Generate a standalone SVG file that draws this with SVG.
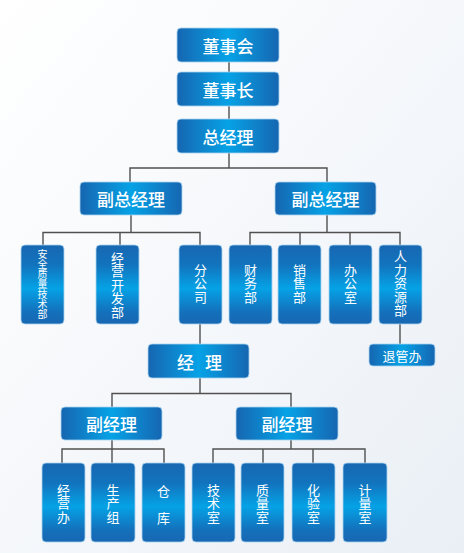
<svg xmlns="http://www.w3.org/2000/svg" width="464" height="553" viewBox="0 0 464 553">
<defs>
<linearGradient id="bg" x1="0" y1="0" x2="1" y2="1">
<stop offset="0" stop-color="#ffffff"/>
<stop offset="0.6" stop-color="#f3f6fa"/>
<stop offset="1" stop-color="#e9eff5"/>
</linearGradient>
<linearGradient id="gh" x1="0" y1="0" x2="1" y2="0">
<stop offset="0" stop-color="#1666b1"/>
<stop offset="0.5" stop-color="#06a2e6"/>
<stop offset="1" stop-color="#1666b1"/>
</linearGradient>
<linearGradient id="gv" x1="0" y1="0" x2="0" y2="1">
<stop offset="0" stop-color="#1867b2"/>
<stop offset="0.25" stop-color="#1273bd"/>
<stop offset="0.55" stop-color="#05a2e6"/>
<stop offset="0.85" stop-color="#1470bb"/>
<stop offset="1" stop-color="#1867b2"/>
</linearGradient>
</defs>
<style>
.h{fill:url(#gh);stroke:#a8d3ef;stroke-width:0.8}
.v{fill:url(#gv);stroke:#a8d3ef;stroke-width:0.8}
text{font-family:"Noto Sans CJK SC","Noto Sans",sans-serif;fill:#ffffff;text-anchor:middle;dominant-baseline:central}
.t{font-size:17px;font-weight:500}
.s{font-size:13px}
.vt{font-size:13px;writing-mode:vertical-rl;letter-spacing:0.5px}
.vx{font-size:10px;writing-mode:vertical-rl}
.c{fill:none;stroke:#505050;stroke-width:1.4}
</style>
<rect width="464" height="553" fill="url(#bg)"/>
<g id="connectors" class="c">
<path d="M229 62V72M229 106V119"/>
<path d="M229 153V168M130 182V168H327V182"/>
<path d="M131 215V232.5M43 245V232.5H200V245M120 232.5V245"/>
<path d="M327 215V232.5M250 245V232.5H400V245M300 232.5V245M350 232.5V245"/>
<path d="M400 324V344"/>
<path d="M200 324V344"/>
<path d="M200 378V393.5M112 407V393.5H291V407"/>
<path d="M112 440V463M62 463V449H164V463"/>
<path d="M291 440V449M213 463V449H365V463M263 449V463M313 449V463"/>
</g>
<g id="dongshihui"><rect class="h" x="177" y="28" width="102" height="34" rx="4"/><text class="t" x="228" y="45">董事会</text></g>
<g id="dongshizhang"><rect class="h" x="177" y="72" width="102" height="34" rx="4"/><text class="t" x="228" y="89">董事长</text></g>
<g id="zongjingli"><rect class="h" x="177" y="119" width="102" height="34" rx="4"/><text class="t" x="228" y="136">总经理</text></g>
<g id="fuzong1"><rect class="h" x="80" y="182" width="102" height="33" rx="4"/><text class="t" x="131" y="198.5">副总经理</text></g>
<g id="fuzong2"><rect class="h" x="275" y="182" width="101" height="33" rx="4"/><text class="t" x="325.5" y="198.5">副总经理</text></g>
<g id="anquan"><rect class="v" x="21" y="245" width="43" height="79" rx="4"/><text class="vx" x="42.5" y="284.5">安全质量技术部</text></g>
<g id="jingying"><rect class="v" x="96" y="245" width="43" height="79" rx="4"/><text class="vt" x="117.5" y="285">经营开发部</text></g>
<g id="fengongsi"><rect class="v" x="179" y="245" width="43" height="79" rx="4"/><text class="vt" x="200.5" y="283.5">分公司</text></g>
<g id="caiwu"><rect class="v" x="229" y="245" width="43" height="79" rx="4"/><text class="vt" x="250.5" y="283.5">财务部</text></g>
<g id="xiaoshou"><rect class="v" x="278" y="245" width="43" height="79" rx="4"/><text class="vt" x="299.5" y="283.5">销售部</text></g>
<g id="bangongshi"><rect class="v" x="329" y="245" width="43" height="79" rx="4"/><text class="vt" x="350.5" y="283.5">办公室</text></g>
<g id="renli"><rect class="v" x="379" y="245" width="43" height="79" rx="4"/><text class="vt" x="400.5" y="283.5">人力资源部</text></g>
<g id="tuiguanban"><rect class="h" x="369" y="344" width="66" height="22" rx="4"/><text class="s" x="402" y="355">退管办</text></g>
<g id="jingli"><rect class="h" x="148" y="344" width="101" height="34" rx="4"/><text class="t" x="199.5" y="361" style="word-spacing:7px" xml:space="preserve">经 理</text></g>
<g id="fujingli1"><rect class="h" x="61" y="407" width="101" height="33" rx="4"/><text class="t" x="111.5" y="423.5">副经理</text></g>
<g id="fujingli2"><rect class="h" x="236" y="407" width="102" height="33" rx="4"/><text class="t" x="287" y="423.5">副经理</text></g>
<g id="jingyingban"><rect class="v" x="42" y="463" width="43" height="79" rx="4"/><text class="vt" x="63.5" y="503.5">经营办</text></g>
<g id="shengchanzu"><rect class="v" x="91" y="463" width="44" height="79" rx="4"/><text class="vt" x="113" y="503.5">生产组</text></g>
<g id="cangku"><rect class="v" x="142" y="463" width="43" height="79" rx="4"/><text class="s"><tspan x="163.5" y="490">仓</tspan><tspan x="163.5" y="517">库</tspan></text></g>
<g id="jishushi"><rect class="v" x="192" y="463" width="43" height="79" rx="4"/><text class="vt" x="213.5" y="503.5">技术室</text></g>
<g id="zhiliangshi"><rect class="v" x="241" y="463" width="43" height="79" rx="4"/><text class="vt" x="262.5" y="503.5">质量室</text></g>
<g id="huayanshi"><rect class="v" x="292" y="463" width="43" height="79" rx="4"/><text class="vt" x="313.5" y="503.5">化验室</text></g>
<g id="jiliangshi"><rect class="v" x="343" y="463" width="44" height="79" rx="4"/><text class="vt" x="365" y="503.5">计量室</text></g>
</svg>
